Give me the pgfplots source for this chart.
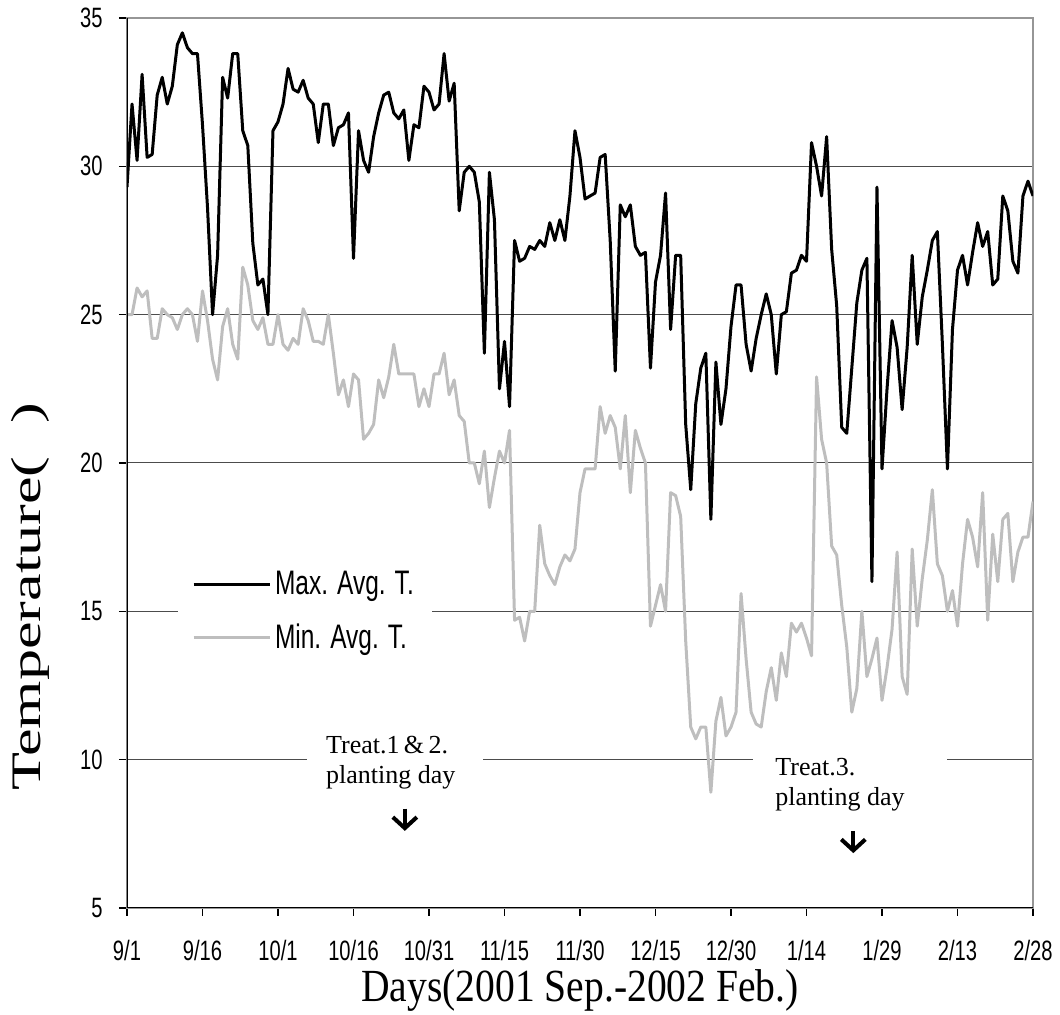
\documentclass[border=0pt]{standalone}
\usepackage{fontspec}
\setmainfont{Liberation Serif}
\newfontfamily\narrowsans{Liberation Sans}[FakeStretch=0.72]
\newfontfamily\narrowserif{Liberation Serif}[FakeStretch=0.86]
\newfontfamily\tallserif{Liberation Serif}[FakeStretch=1.48]
\usepackage{pgfplots}
\usepackage{pgfplotstable}
\pgfplotsset{compat=1.18}
\usetikzlibrary{arrows.meta}

\definecolor{mingray}{RGB}{190,190,190}
\definecolor{framegray}{RGB}{150,150,150}

% daily means, day 0 = 9/1
\pgfplotstableread{
day tmax tmin
0 29.3 25.0
1 32.1 25.0
2 30.2 25.9
3 33.1 25.6
4 30.3 25.8
5 30.4 24.2
6 32.4 24.2
7 33.0 25.2
8 32.1 25.0
9 32.7 24.9
10 34.1 24.5
11 34.5 25.0
12 34.0 25.2
13 33.8 25.0
14 33.8 24.1
15 31.4 25.8
16 28.6 24.8
17 25.0 23.5
18 27.0 22.8
19 33.0 24.6
20 32.3 25.2
21 33.8 24.0
22 33.8 23.5
23 31.2 26.6
24 30.7 26.0
25 27.4 24.8
26 26.0 24.5
27 26.2 24.9
28 25.0 24.0
29 31.2 24.0
30 31.5 25.0
31 32.1 24.0
32 33.3 23.8
33 32.6 24.2
34 32.5 24.0
35 32.9 25.2
36 32.3 24.8
37 32.1 24.1
38 30.8 24.1
39 32.1 24.0
40 32.1 25.0
41 30.7 23.7
42 31.3 22.3
43 31.4 22.8
44 31.8 21.9
45 26.9 23.0
46 31.2 22.8
47 30.2 20.8
48 29.8 21.0
49 31.0 21.3
50 31.8 22.8
51 32.4 22.2
52 32.5 22.9
53 31.8 24.0
54 31.6 23.0
55 31.9 23.0
56 30.2 23.0
57 31.4 23.0
58 31.3 21.9
59 32.7 22.5
60 32.5 21.9
61 31.9 23.0
62 32.1 23.0
63 33.8 23.7
64 32.2 22.3
65 32.8 22.8
66 28.5 21.6
67 29.8 21.4
68 30.0 20.0
69 29.8 20.0
70 28.8 19.3
71 23.7 20.4
72 29.8 18.5
73 28.2 19.5
74 22.5 20.4
75 24.1 20.0
76 21.9 21.1
77 27.5 14.7
78 26.8 14.8
79 26.9 14.0
80 27.3 15.0
81 27.2 15.0
82 27.5 17.9
83 27.3 16.6
84 28.1 16.2
85 27.5 15.9
86 28.2 16.5
87 27.5 16.9
88 29.0 16.7
89 31.2 17.1
90 30.3 19.0
91 28.9 19.8
92 29.0 19.8
93 29.1 19.8
94 30.3 21.9
95 30.4 21.0
96 27.5 21.6
97 23.1 21.2
98 28.7 19.8
99 28.3 21.6
100 28.7 19.0
101 27.3 21.1
102 27.0 20.5
103 27.1 20.0
104 23.2 14.5
105 26.1 15.2
106 27.0 15.9
107 29.1 15.0
108 24.5 19.0
109 27.0 18.9
110 27.0 18.2
111 21.3 14.0
112 19.1 11.1
113 22.0 10.7
114 23.2 11.1
115 23.7 11.1
116 18.1 8.9
117 23.4 11.3
118 21.3 12.1
119 22.5 10.8
120 24.6 11.1
121 26.0 11.6
122 26.0 15.6
123 24.0 13.4
124 23.1 11.6
125 24.2 11.2
126 25.0 11.1
127 25.7 12.3
128 25.0 13.1
129 23.0 12.0
130 25.0 13.6
131 25.1 12.8
132 26.4 14.6
133 26.5 14.3
134 27.0 14.6
135 26.8 14.1
136 30.8 13.5
137 30.0 22.9
138 29.0 20.8
139 31.0 20.0
140 27.2 17.2
141 25.3 16.9
142 21.2 15.2
143 21.0 13.8
144 23.2 11.6
145 25.4 12.4
146 26.5 15.0
147 26.9 12.8
148 16.0 13.4
149 29.3 14.1
150 19.8 12.0
151 22.5 13.1
152 24.8 14.4
153 23.9 17.0
154 21.8 12.8
155 23.9 12.2
156 27.0 17.1
157 24.0 14.5
158 25.6 16.1
159 26.5 17.4
160 27.5 19.1
161 27.8 16.6
162 24.0 16.2
163 19.8 15.0
164 24.5 15.7
165 26.5 14.5
166 27.0 16.6
167 26.0 18.1
168 27.1 17.5
169 28.1 16.5
170 27.3 19.0
171 27.8 14.7
172 26.0 17.6
173 26.2 16.0
174 29.0 18.1
175 28.5 18.3
176 26.8 16.0
177 26.4 17.0
178 29.0 17.5
179 29.5 17.5
180 29.0 18.7
}\temps

\begin{document}
\begin{tikzpicture}
  \begin{axis}[name=ax,
               scale only axis, width=453pt, height=445pt,
               xmin=0, xmax=180, ymin=5, ymax=35,
               xtick={0,15,...,180},
               xticklabels={9/1,9/16,10/1,10/16,10/31,11/15,11/30,12/15,12/30,1/14,1/29,2/13,2/28},
               ytick={5,10,...,35},
               tick pos=left, tick align=outside,
               major tick length=4pt,
               tick style={black, line width=0.6pt},
               ymajorgrids, grid style={black!70, line width=0.5pt},
               axis line style={framegray, line width=1pt},
               /pgf/number format/assume math mode=true,
               ticklabel style={font=\narrowsans\fontsize{14}{16}\selectfont, inner sep=0pt},
               xticklabel style={anchor=north, yshift=-12pt},
               yticklabel style={anchor=east, xshift=-8pt},
               xlabel={Days(2001 Sep.-2002 Feb.)},
               xlabel style={font=\narrowserif\fontsize{23}{26}\selectfont,
                             at={(axis description cs:0.5,0)}, anchor=south,
                             yshift=-52pt, inner sep=0pt},
               ylabel={Temperature(\hspace{0.8em})},
               ylabel style={font=\tallserif\fontsize{21}{24}\selectfont,
                             at={(axis description cs:-0.107,0.35)}, anchor=center,
                             inner sep=0pt},
               legend style={at={(axis cs:10.06,15)}, anchor=west,
                             draw=none, fill=white,
                             font=\narrowsans\fontsize{17}{19}\selectfont,
                             inner xsep=7pt, inner ysep=4pt, row sep=9pt,
                             /tikz/every even column/.append style={column sep=3pt}},
               legend cell align=left,
               legend image code/.code={\draw[#1] (0pt,0pt) -- (38pt,0pt);},
              ]

    % SERIES
    \addplot[black, line width=1.5pt, line join=round] table[x=day, y=tmax] {\temps};
    \addlegendentry{Max. Avg. T.}
    \addplot[mingray, line width=1.5pt, line join=round] table[x=day, y=tmin] {\temps};
    \addlegendentry{Min. Avg. T.}

    % FRAME: left and bottom in black
    \draw[black, line width=0.8pt] (rel axis cs:0,1) -- (rel axis cs:0,0) -- (rel axis cs:1,0);

    % TEXT BOXES
    \fill[white] (axis cs:35.8,9.55) rectangle (axis cs:70.7,10.45);
    \fill[white] (axis cs:124.4,9.55) rectangle (axis cs:163.0,10.45);
    \node[anchor=base west, inner sep=0pt, font=\fontsize{13}{15}\selectfont]
      at (axis cs:39.5,10.22) {Treat.1\,\&\,2.};
    \node[anchor=base west, inner sep=0pt, font=\fontsize{13}{15}\selectfont]
      at (axis cs:39.5,9.21) {planting day};
    \node[anchor=base west, inner sep=0pt, font=\fontsize{13}{15}\selectfont]
      at (axis cs:128.75,9.48) {Treat.3.};
    \node[anchor=base west, inner sep=0pt, font=\fontsize{13}{15}\selectfont]
      at (axis cs:128.75,8.47) {planting day};

    % ARROWS
    \draw[line width=2pt, -{Straight Barb[length=5.5pt, width=12pt]}]
      (axis cs:55.2,8.35) -- (axis cs:55.2,7.6);
    \draw[line width=2pt, -{Straight Barb[length=5.5pt, width=12pt]}]
      (axis cs:144.3,7.6) -- (axis cs:144.3,6.85);
  \end{axis}
  \pgfresetboundingbox
  \useasboundingbox ([shift={(-63.5pt,-53.5pt)}]ax.south west)
    rectangle ([shift={(13.5pt,9pt)}]ax.north east);
\end{tikzpicture}
\end{document}
